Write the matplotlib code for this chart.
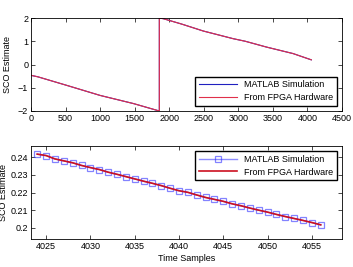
import matplotlib
matplotlib.use('Agg')
import matplotlib.pyplot as plt

plt.rcParams['font.family'] = ['Liberation Sans', 'DejaVu Sans']

# top panel: wrapped SCO estimate (breakpoints)
top_x = [0, 100, 520, 1000, 1482, 1857, 1857, 1915, 2156, 2200, 2493, 2926, 3100, 3407, 3792, 4056]
top_y = [-0.466, -0.53, -0.9, -1.33, -1.68, -2.0, 2.0, 1.97, 1.76, 1.72, 1.44, 1.11, 1.0, 0.75, 0.47, 0.2]

# bottom panel: zoom on last samples
bot_x = list(range(4024, 4057))
bot_sim = [0.2417, 0.2409, 0.2390, 0.2379, 0.2368, 0.2353, 0.2341, 0.2330, 0.2315, 0.2303,
           0.2290, 0.2277, 0.2264, 0.2252, 0.2239, 0.2224, 0.2210, 0.2201, 0.2186, 0.2172,
           0.2161, 0.2150, 0.2136, 0.2125, 0.2112, 0.2100, 0.2089, 0.2076, 0.2064, 0.2053,
           0.2042, 0.2030, 0.2017]
bot_fpga = bot_sim

fs = 6.5
fig = plt.figure(figsize=(3.53, 2.67), dpi=100)
ax1 = fig.add_axes([31/353, 1 - 111/267, 311/353, 93/267])
ax2 = fig.add_axes([31/353, 1 - 239/267, 311/353, 93/267])

ax1.plot(top_x, top_y, color='#2020c0', lw=0.8, label='MATLAB Simulation')
ax1.plot(top_x, top_y, color='#e0304a', lw=0.8, label='From FPGA Hardware')
ax1.set_xlim(0, 4500)
ax1.set_ylim(-2, 2)
ax1.set_xticks(range(0, 4501, 500))
ax1.set_yticks([-2, -1, 0, 1, 2])
ax1.set_ylabel('SCO Estimate', fontsize=fs, labelpad=4)
ax1.legend(loc='lower right', fontsize=fs, frameon=True, fancybox=False,
           edgecolor='black', framealpha=1, handlelength=4.2, borderaxespad=0.6,
           borderpad=0.4, labelspacing=0.4)

ax2.plot(bot_x, bot_sim, color='#4040ff', alpha=0.6, lw=1.0, marker='s', ms=4.5,
         mfc='none', mec='#3030ff', mew=0.9, label='MATLAB Simulation')
ax2.plot(bot_x, bot_fpga, color='#cc1020', lw=1.2, label='From FPGA Hardware')
ax2.set_xlim(4023.3, 4058.4)
ax2.set_ylim(0.1937, 0.2463)
ax2.set_xticks(range(4025, 4056, 5))
ax2.set_yticks([0.2, 0.21, 0.22, 0.23, 0.24])
ax2.set_yticklabels(['0.2', '0.21', '0.22', '0.23', '0.24'])
ax2.set_ylabel('SCO Estimate', fontsize=fs, labelpad=2)
ax2.set_xlabel('Time Samples', fontsize=fs, labelpad=2)
ax2.legend(loc='upper right', fontsize=fs, frameon=True, fancybox=False,
           edgecolor='black', framealpha=1, handlelength=4.2, borderaxespad=0.6,
           borderpad=0.4, labelspacing=0.4)

for ax in (ax1, ax2):
    ax.tick_params(direction='in', top=True, right=True, labelsize=fs,
                   length=3, width=0.5, pad=2)
    for s in ax.spines.values():
        s.set_linewidth(0.6)

fig.savefig('out.png', dpi=100)
